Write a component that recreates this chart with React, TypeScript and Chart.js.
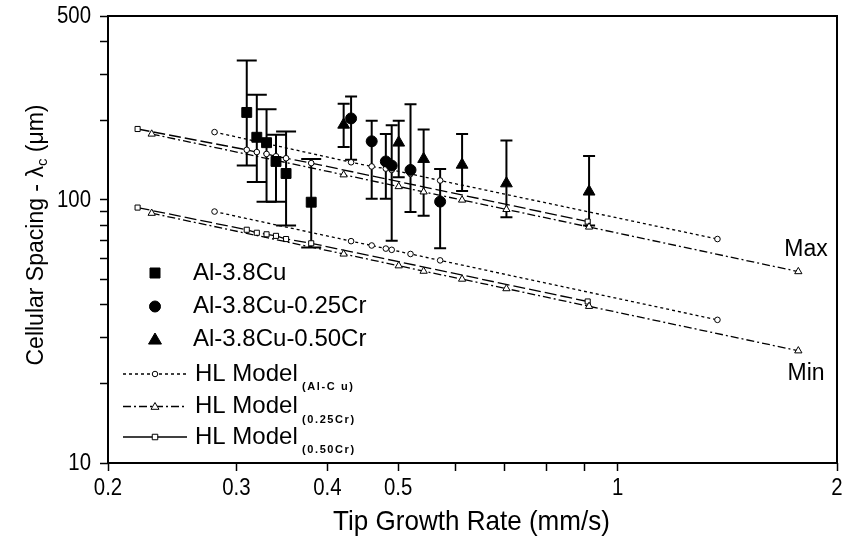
import React, { useEffect, useRef } from 'react';
import { Chart, registerables } from 'chart.js';
Chart.register(...registerables);

const FONT = '"Liberation Sans", Arial, sans-serif';

// ---- axis ticks ----
const xTickValues = [0.2, 0.3, 0.4, 0.5, 0.6, 0.7, 0.8, 0.9, 1, 2];
const xLabelValues = [0.2, 0.3, 0.4, 0.5, 1, 2];
const xLabelTexts = ['0.2', '0.3', '0.4', '0.5', '1', '2'];
const yTickValues = [10, 20, 30, 40, 50, 60, 70, 80, 90, 100, 200, 300, 400, 500];
const yLabelValues = [10, 100, 500];
const yLabelTexts = ['10', '100', '500'];

// ---- experimental series ----
const cuX = [0.31, 0.32, 0.33, 0.34, 0.351, 0.38];
const cuY = [215, 173, 165, 140, 126, 98];
const cuHi = [339, 251, 221, 177, 182, 143];
const cuLo = [135, 117, 98.5, 98.5, 80, 66];

const cr25X = [0.431, 0.46, 0.481, 0.49, 0.52, 0.571];
const cr25Y = [204, 167, 140, 135, 130, 98.5];
const cr25Hi = [247, 200, 178, 192, 231, 131];
const cr25Lo = [142, 101, 101, 70, 90, 65.5];

const cr50X = [0.421, 0.501, 0.542, 0.612, 0.704, 0.914];
const cr50Y = [193, 165, 143, 136, 115.5, 107.5];
const cr50Hi = [232, 200, 185, 178, 168, 147];
const cr50Lo = [159, 122, 87, 108, 86, 80];

// ---- HL model series ----
const hlCuX = [0.28, 0.431, 0.46, 0.481, 0.49, 0.52, 0.571, 1.371];
const hlCuMax = [181, 139, 134, 131.5, 130, 125.5, 118.5, 71];
const hlCuMin = [90.3, 69.7, 67.1, 65.3, 64.6, 62.3, 58.9, 35.0];

const hl25X = [0.2296, 0.421, 0.501, 0.542, 0.612, 0.704, 0.914, 1.77];
const hl25Max = [178, 124.6, 112.4, 107.3, 99.9, 92.0, 78.9, 53.4];
const hl25Min = [89, 62.3, 56.2, 53.6, 50.0, 46.0, 39.4, 26.7];

const hl50X = [0.2196, 0.31, 0.32, 0.33, 0.34, 0.351, 0.38, 0.91];
const hl50Max = [186, 155, 152, 149.5, 146.5, 144, 138, 82.7];
const hl50Min = [93.5, 77, 75, 74, 73, 71, 68.4, 41.1];

const pts = (xs: number[], ys: number[]) => xs.map((x, i) => ({ x, y: ys[i] }));

function expSet(label: string, xs: number[], ys: number[], style: string, r: number) {
  return {
    label,
    data: pts(xs, ys),
    showLine: false,
    pointStyle: style,
    pointRadius: r,
    pointHoverRadius: r,
    backgroundColor: '#000',
    borderColor: '#000',
    pointBorderWidth: 1,
  };
}

function modelSet(label: string, xs: number[], ys: number[], dash: number[], style: any, r: any) {
  return {
    label,
    data: pts(xs, ys),
    showLine: true,
    borderColor: '#000',
    borderWidth: 1.3,
    borderDash: dash,
    pointStyle: style,
    pointRadius: r,
    pointHoverRadius: r,
    pointBackgroundColor: '#fff',
    pointBorderColor: '#000',
    pointBorderWidth: 1,
    fill: false,
    tension: 0,
  };
}

const errorSets = [
  { xs: cuX, hi: cuHi, lo: cuLo, cap: 10 },
  { xs: cr25X, hi: cr25Hi, lo: cr25Lo, cap: 6 },
  { xs: cr50X, hi: cr50Hi, lo: cr50Lo, cap: 6 },
];

const errorBarPlugin = {
  id: 'errorBars',
  beforeDatasetsDraw(chart: any) {
    const { ctx } = chart;
    const xs = chart.scales.x;
    const ys = chart.scales.y;
    ctx.save();
    ctx.strokeStyle = '#000';
    ctx.lineWidth = 2;
    errorSets.forEach((s) => {
      s.xs.forEach((xv, i) => {
        const px = xs.getPixelForValue(xv);
        const pt = ys.getPixelForValue(s.hi[i]);
        const pb = ys.getPixelForValue(s.lo[i]);
        ctx.beginPath();
        ctx.moveTo(px, pt);
        ctx.lineTo(px, pb);
        ctx.moveTo(px - s.cap, pt);
        ctx.lineTo(px + s.cap, pt);
        ctx.moveTo(px - s.cap, pb);
        ctx.lineTo(px + s.cap, pb);
        ctx.stroke();
      });
    });
    ctx.restore();
  },
};

function drawText(ctx: any, text: string, x: number, y: number, font: string, align: string, sx = 1) {
  ctx.save();
  ctx.translate(x, y);
  ctx.scale(sx, 1);
  ctx.font = font;
  ctx.fillStyle = '#000';
  ctx.textAlign = align;
  ctx.textBaseline = 'middle';
  ctx.fillText(text, 0, 0);
  ctx.restore();
}

function drawSpaced(ctx: any, text: string, x: number, y: number, font: string, spacing: number) {
  ctx.save();
  ctx.font = font;
  ctx.fillStyle = '#000';
  ctx.textAlign = 'left';
  ctx.textBaseline = 'middle';
  let cx = x;
  for (const ch of text) {
    ctx.fillText(ch, cx, y);
    cx += ctx.measureText(ch).width + spacing;
  }
  ctx.restore();
}

function marker(ctx: any, kind: string, x: number, y: number, size: number, filled: boolean) {
  ctx.save();
  ctx.beginPath();
  if (kind === 'square') {
    ctx.rect(x - size / 2, y - size / 2, size, size);
  } else if (kind === 'circle') {
    ctx.arc(x, y, size / 2, 0, Math.PI * 2);
  } else {
    const r = size / 2;
    ctx.moveTo(x, y - r);
    ctx.lineTo(x + r * 0.866 * 1.15, y + r * 0.7);
    ctx.lineTo(x - r * 0.866 * 1.15, y + r * 0.7);
    ctx.closePath();
  }
  ctx.fillStyle = filled ? '#000' : '#fff';
  ctx.fill();
  ctx.lineWidth = 1;
  ctx.strokeStyle = '#000';
  ctx.stroke();
  ctx.restore();
}

const textPlugin = {
  id: 'texts',
  afterDraw(chart: any) {
    const { ctx, chartArea: a } = chart;
    const xs = chart.scales.x;
    const ys = chart.scales.y;
    // frame
    ctx.save();
    ctx.strokeStyle = '#000';
    ctx.lineWidth = 2;
    ctx.strokeRect(a.left, a.top, a.right - a.left, a.bottom - a.top);
    ctx.restore();

    const tickFont = `24px ${FONT}`;
    xLabelValues.forEach((v, i) => drawText(ctx, xLabelTexts[i], xs.getPixelForValue(v), 488, tickFont, 'center', 0.85));
    yLabelValues.forEach((v, i) => drawText(ctx, yLabelTexts[i], 91, ys.getPixelForValue(v), tickFont, 'right', 0.85));

    // x title
    drawText(ctx, 'Tip Growth Rate (mm/s)', (a.left + a.right) / 2 - 1, 522, `28px ${FONT}`, 'center', 0.93);

    // y title (rotated, with subscript)
    ctx.save();
    ctx.translate(37, 235);
    ctx.rotate(-Math.PI / 2);
    ctx.fillStyle = '#000';
    ctx.textBaseline = 'middle';
    ctx.textAlign = 'left';
    const mainF = `23px ${FONT}`;
    const subF = `15px ${FONT}`;
    const p1 = 'Cellular Spacing - \u03bb';
    const p2 = 'c';
    const p3 = ' (\u03bcm)';
    ctx.font = mainF;
    const w1 = ctx.measureText(p1).width;
    const w3 = ctx.measureText(p3).width;
    ctx.font = subF;
    const w2 = ctx.measureText(p2).width;
    let cx = -(w1 + w2 + w3) / 2;
    ctx.font = mainF;
    ctx.fillText(p1, cx, 0);
    cx += w1;
    ctx.font = subF;
    ctx.fillText(p2, cx, 6);
    cx += w2;
    ctx.font = mainF;
    ctx.fillText(p3, cx, 0);
    ctx.restore();

    // Max / Min
    drawText(ctx, 'Max', 806, 250, `23px ${FONT}`, 'center');
    drawText(ctx, 'Min', 806, 374, `23px ${FONT}`, 'center');

    // legend
    const legFont = `24px ${FONT}`;
    const mx = 155;
    const tx = 193;
    marker(ctx, 'square', mx, 273, 10, true);
    drawText(ctx, 'Al-3.8Cu', tx, 273, legFont, 'left');
    marker(ctx, 'circle', mx, 306.5, 11, true);
    drawText(ctx, 'Al-3.8Cu-0.25Cr', tx, 306.5, legFont, 'left');
    marker(ctx, 'triangle', mx, 339.5, 13, true);
    drawText(ctx, 'Al-3.8Cu-0.50Cr', tx, 339.5, legFont, 'left');

    const rows = [
      { y: 374, dash: [3, 3], kind: 'circle', size: 5.5, sub: '(Al-C u)' },
      { y: 406.5, dash: [8, 3, 2, 3], kind: 'triangle', size: 8, sub: '(0.25Cr)' },
      { y: 437, dash: [], kind: 'square', size: 5.5, sub: '(0.50Cr)' },
    ];
    rows.forEach((r) => {
      ctx.save();
      ctx.strokeStyle = '#000';
      ctx.lineWidth = 1.3;
      ctx.setLineDash(r.dash);
      ctx.beginPath();
      ctx.moveTo(123, r.y);
      ctx.lineTo(187, r.y);
      ctx.stroke();
      ctx.restore();
      marker(ctx, r.kind, mx, r.y, r.size, false);
      drawText(ctx, 'HL Model', tx + 2, r.y, legFont, 'left');
      drawSpaced(ctx, r.sub, 302, r.y + 13, `bold 11px ${FONT}`, 1.6);
    });
  },
};

export default function App() {
  const ref = useRef<HTMLCanvasElement | null>(null);
  useEffect(() => {
    document.body.style.margin = '0';
    if (!ref.current) return;
    const upper50Styles = ['rect', 'circle', 'circle', 'circle', 'circle', 'circle', 'circle', 'rect'];
    const upper50Radius = [3.6, 2.8, 2.8, 2.8, 2.8, 2.8, 2.8, 3.6];
    const chart = new Chart(ref.current, {
      type: 'scatter',
      data: {
        datasets: [
          expSet('Al-3.8Cu', cuX, cuY, 'rect', 7),
          expSet('Al-3.8Cu-0.25Cr', cr25X, cr25Y, 'circle', 5.5),
          expSet('Al-3.8Cu-0.50Cr', cr50X, cr50Y, 'triangle', 6.8),
          modelSet('HL Model (Al-Cu) Max', hlCuX, hlCuMax, [3, 3], 'circle', 2.8),
          modelSet('HL Model (Al-Cu) Min', hlCuX, hlCuMin, [3, 3], 'circle', 2.8),
          modelSet('HL Model (0.25Cr) Max', hl25X, hl25Max, [8, 3, 2, 3], 'triangle', 4.2),
          modelSet('HL Model (0.25Cr) Min', hl25X, hl25Min, [8, 3, 2, 3], 'triangle', 4.2),
          modelSet('HL Model (0.50Cr) Max', hl50X, hl50Max, [12, 4], upper50Styles, upper50Radius),
          modelSet('HL Model (0.50Cr) Min', hl50X, hl50Min, [12, 4], 'rect', 3.6),
        ] as any,
      },
      options: {
        animation: false,
        responsive: false,
        devicePixelRatio: 1,
        layout: { padding: { left: 100, right: 7, top: 16, bottom: 74 } },
        plugins: {
          legend: { display: false },
          tooltip: { enabled: false },
          title: { display: false },
        },
        scales: {
          x: {
            type: 'logarithmic',
            position: 'bottom',
            min: 0.2,
            max: 2,
            afterBuildTicks: (axis: any) => {
              axis.ticks = xTickValues.map((v) => ({ value: v }));
            },
            afterFit: (axis: any) => {
              axis.height = 8;
            },
            ticks: { display: false },
            border: { display: false },
            grid: {
              display: true,
              drawOnChartArea: false,
              drawTicks: true,
              tickLength: 8,
              tickColor: '#000',
              tickWidth: 1.5,
              color: '#000',
            },
          },
          y: {
            type: 'logarithmic',
            position: 'left',
            min: 10,
            max: 500,
            afterBuildTicks: (axis: any) => {
              axis.ticks = yTickValues.map((v) => ({ value: v }));
            },
            afterFit: (axis: any) => {
              axis.width = 8;
            },
            ticks: { display: false },
            border: { display: false },
            grid: {
              display: true,
              drawOnChartArea: false,
              drawTicks: true,
              tickLength: 8,
              tickColor: '#000',
              tickWidth: 1.5,
              color: '#000',
            },
          },
        },
      } as any,
      plugins: [errorBarPlugin, textPlugin],
    });
    return () => chart.destroy();
  }, []);
  return (
    <div style={{ width: 845, height: 545, background: '#fff' }}>
      <canvas ref={ref} width={845} height={545} style={{ display: 'block' }} />
    </div>
  );
}
